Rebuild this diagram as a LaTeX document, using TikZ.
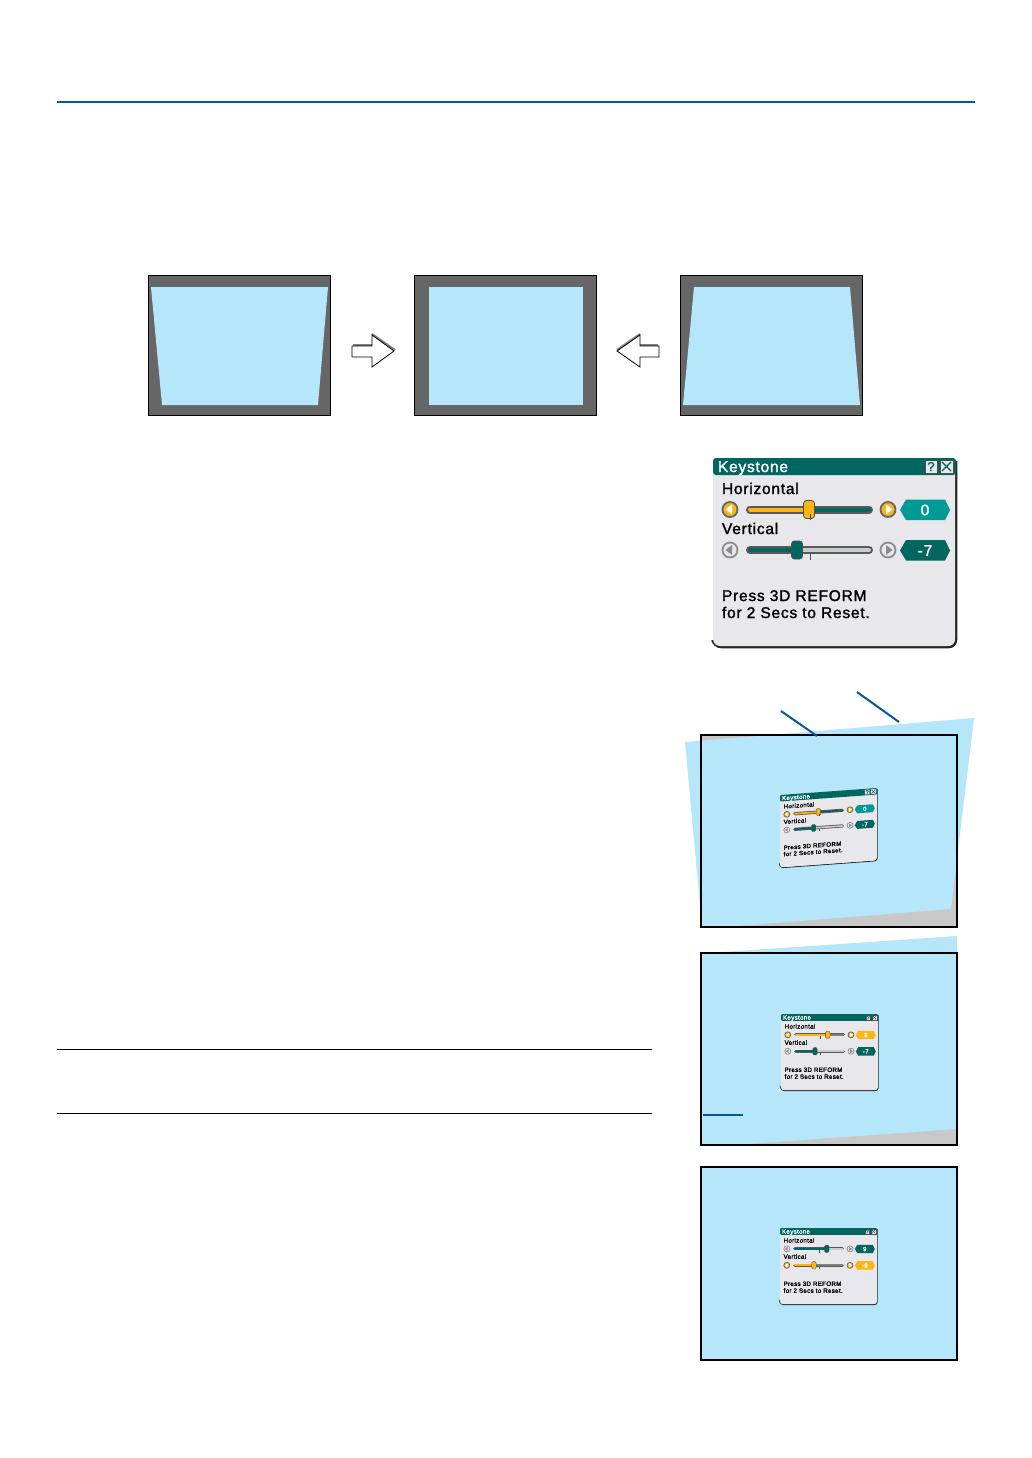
\documentclass[tikz,border=0pt]{standalone}
\usepackage{fontspec}
\setmainfont{Liberation Sans}
\newfontfamily\dlgfont{Liberation Sans}[LetterSpace=5,FakeBold=1.6]
\definecolor{rule}{HTML}{005A9C}
\definecolor{screenblue}{HTML}{B5E6F9}
\definecolor{frame}{HTML}{666666}
\definecolor{wedge}{HTML}{C8C8C8}
\definecolor{teal}{HTML}{00665F}
\definecolor{lteal}{HTML}{009A96}
\definecolor{orng}{HTML}{FDB515}
\definecolor{body}{HTML}{E8E8EC}
\definecolor{trackoff}{HTML}{C8CCCC}
\tikzset{
  ruleline/.style={draw=rule,line width=2pt},
  thinrule/.style={draw=black,line width=0.7pt},
  screenframe/.style={draw=black,line width=2pt},
  outerpanel/.style={fill=frame,draw=black,line width=0.5pt},
  bluepoly/.style={fill=screenblue},
  bigarrow/.style={fill=white,draw=black,line width=0.8pt,line join=miter},
  arrowshade/.style={draw=gray,line width=2pt},
  dlgtext/.style={anchor=base west,inner sep=0pt,outer sep=0pt,font=\dlgfont\fontsize{15.5}{15.5}\selectfont,transform shape},
  valtext/.style={anchor=center,inner sep=0pt,outer sep=0pt,text=white,font=\dlgfont\fontsize{15.5}{15.5}\selectfont,transform shape},
  onring/.style={draw=black!60,fill=orng},
  offring/.style={draw=black!45,fill=body},
  onarrow/.style={fill=white},
  offarrow/.style={fill=black!45},
}
% #1 name, #2 y, #3 handle x, #4 value, #5 left colour, #6 right colour, #7 handle colour, #8 button kind (on/off), #9 value colour
\newcommand{\dlgrow}[9]{%
  \draw[draw=black!65,line width=\ls*8pt,line cap=round] (37,#2) -- (156,#2);
  \draw[draw=#5,line width=\ls*4pt,line cap=round] (37,#2) -- (#3,#2);
  \draw[draw=#6,line width=\ls*4pt,line cap=round] (#3,#2) -- (156,#2);
  \draw[draw=black!70,fill=#7,line width=\ls*0.8pt,rounded corners=\ls*3pt] (#3-5.5,#2-9) rectangle (#3+5.5,#2+9);
  \draw[draw=black!70,line width=\ls*0.8pt] (97,#2+10) -- (97,#2+4);
  \draw[#8ring,line width=\ls*1.8pt] (17,#2) circle (7.5);
  \draw[#8ring,line width=\ls*1.8pt] (175,#2) circle (7.5);
  \fill[#8arrow] (12.5,#2) -- (19,#2-5) -- (19,#2+5) -- cycle;
  \fill[#8arrow] (179.5,#2) -- (173,#2-5) -- (173,#2+5) -- cycle;
  \fill[#9] (187,#2+0.5) -- (193,#2-10) -- (232,#2-10) -- (237,#2+0.5) -- (232,#2+10.5) -- (193,#2+10.5) -- cycle;
  \node[valtext] (#1) at (212,#2+0.5) {#4};
}
% #1 name, #2 cm, #3 scale, #4 rows
\newcommand{\dlgbox}[4]{%
  \begin{scope}[cm={#2}]
  \def\ls{#3}
  \draw[draw=black!85,line width=\ls*2.5pt,rounded corners=\ls*7pt] (243,3) -- (243,189) -- (1,189) -- (0,184);
  \fill[body,rounded corners=\ls*7pt] (0,0) -- (242,0) -- (242,188) -- (0,188) -- cycle;
  \fill[teal,rounded corners=\ls*3pt] (0,17) -- (0,0) -- (243,0) -- (243,17) -- cycle;
  \fill[body,draw=black!70,line width=\ls*0.6pt] (212,2) rectangle (224,15);
  \fill[body,draw=black!70,line width=\ls*0.6pt] (227,2) rectangle (240,15);
  \node[anchor=center,inner sep=0pt,text=teal,font=\dlgfont\fontsize{13}{13}\selectfont,transform shape] (#1q) at (218,8.5) {?};
  \draw[teal,line width=\ls*1.2pt] (229,4) -- (238,13) (238,4) -- (229,13);
  \node[dlgtext,text=white] (#1t) at (5,14) {Keystone};
  \node[dlgtext] (#1h) at (9,36) {Horizontal};
  \node[dlgtext] (#1v) at (9,76) {Vertical};
  \node[dlgtext] (#1p) at (9,143) {Press 3D REFORM};
  \node[dlgtext] (#1f) at (9,160) {for 2 Secs to Reset.};
  #4
  \end{scope}
}
\begin{document}
\begin{tikzpicture}[x=1pt,y=-1pt]
\useasboundingbox (0,0) rectangle (1032,1458);
\fill[white] (0,0) rectangle (1032,1458);
\draw[ruleline] (57,102) -- (975,102);
% three panels
\draw[outerpanel] (148.5,275.5) rectangle (330.5,415.5);
\fill[bluepoly] (151,287) -- (328,287) -- (318,405) -- (162,405) -- cycle;
\draw[outerpanel] (414.5,275.5) rectangle (596.5,415.5);
\fill[bluepoly] (429,287) -- (583,287) -- (583,405) -- (429,405) -- cycle;
\draw[outerpanel] (680.5,275.5) rectangle (862.5,415.5);
\fill[bluepoly] (694,287) -- (850,287) -- (860,405) -- (683,405) -- cycle;
% arrows
\draw[arrowshade] (353,345) -- (372,345) (372,334) -- (395,350);
\draw[bigarrow] (352,346) -- (372,346) -- (372,335) -- (394,351) -- (372,367) -- (372,357) -- (352,357) -- cycle;
\draw[arrowshade] (640,345) -- (658,345) (640,334) -- (617,350);
\draw[bigarrow] (659,346) -- (640,346) -- (640,335) -- (617,351) -- (640,367) -- (640,357) -- (659,357) -- cycle;
% big dialog
\dlgbox{a}{1,0,0,1,(713,458)}{1}{%
  \dlgrow{ah}{51.5}{96}{0}{orng}{teal}{orng}{on}{lteal}
  \dlgrow{av}{92}{84}{-7}{teal}{trackoff}{teal}{off}{teal}}
% screen 1
\fill[wedge] (700,735) rectangle (957,927);
\fill[bluepoly] (685,742) -- (974,718) -- (951,909) -- (737,926) -- (702,927) -- cycle;
\draw[screenframe] (701,735) rectangle (957,927);
\draw[ruleline] (781,711) -- (817,736);
\draw[ruleline] (857,692) -- (899,722);
\dlgbox{b}{0.4,0.029,0,0.385,(780,795)}{0.4}{%
  \dlgrow{bh}{51.5}{96}{0}{orng}{teal}{orng}{on}{lteal}
  \dlgrow{bv}{92}{84}{-7}{teal}{trackoff}{teal}{off}{teal}}
% screen 2
\fill[wedge] (701,953) rectangle (957,1145);
\fill[bluepoly] (701,953.5) -- (723,952) -- (957,936) -- (957,1129) -- (733,1145) -- (701,1145) -- cycle;
\draw[screenframe] (701,953) rectangle (957,1145);
\draw[ruleline] (703,1115) -- (743,1115);
\dlgbox{c}{0.4,0,0,0.405,(781,1014)}{0.4}{%
  \dlgrow{ch}{51.5}{117}{9}{orng}{gray}{orng}{on}{orng}
  \dlgrow{cv}{92}{85}{-7}{teal}{trackoff}{teal}{off}{teal}}
% screen 3
\fill[bluepoly] (701,1167) rectangle (957,1360);
\draw[screenframe] (701,1167) rectangle (957,1360);
\dlgbox{d}{0.4,0,0,0.405,(780,1228)}{0.4}{%
  \dlgrow{dh}{51.5}{117}{9}{teal}{trackoff}{teal}{off}{teal}
  \dlgrow{dv}{92}{85}{-8}{orng}{gray}{orng}{on}{orng}}
% text rules
\draw[thinrule] (57,1049) -- (652,1049);
\draw[thinrule] (57,1113) -- (652,1113);
\end{tikzpicture}
\end{document}
